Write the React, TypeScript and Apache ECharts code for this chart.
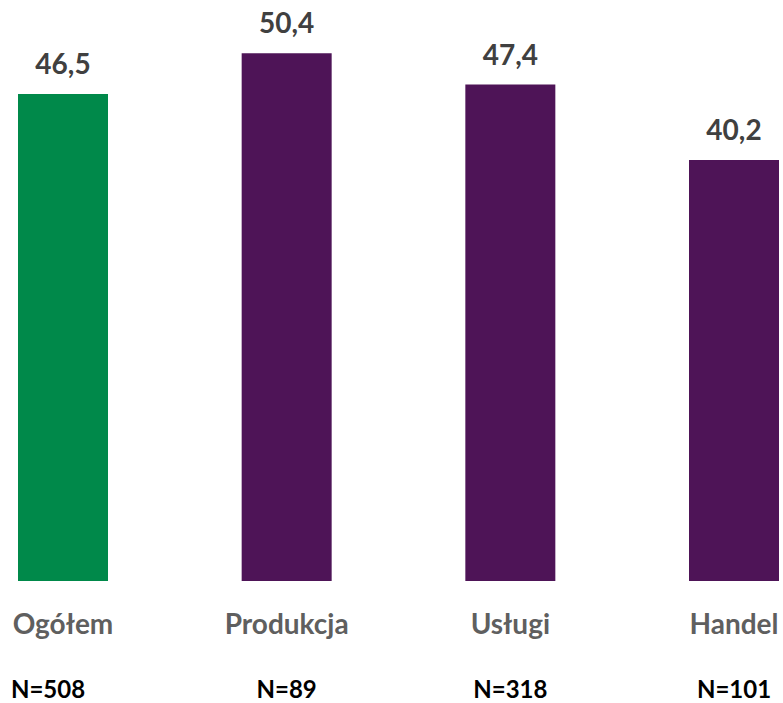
import React, { useEffect, useRef } from "react";
import * as echarts from "echarts";

const categories = ["Ogółem", "Produkcja", "Usługi", "Handel"];
const sampleSizes = ["N=508", "N=89", "N=318", "N=101"];
const values = [46.5, 50.4, 47.4, 40.2];
const barColors = ["#00894A", "#4E1457", "#4E1457", "#4E1457"];

export default function App() {
  const ref = useRef<HTMLDivElement>(null);
  useEffect(() => {
    document.body.style.margin = "0";
    const chart = echarts.init(ref.current!, null, { renderer: "svg" });
    const font = "Lato, 'Open Sans', sans-serif";
    chart.setOption({
      animation: false,
      grid: { left: 63, right: 49, top: 5, bottom: 122 },
      xAxis: [
        {
          type: "category",
          data: categories,
          boundaryGap: false,
          axisLine: { show: false },
          axisTick: { show: false },
          axisLabel: {
            margin: 28,
            fontSize: 28,
            fontWeight: "bold",
            color: "#5F5F5F",
            fontFamily: font,
          },
        },
        {
          type: "category",
          data: sampleSizes,
          position: "bottom",
          boundaryGap: false,
          axisLine: { show: false },
          axisTick: { show: false },
          axisLabel: {
            margin: 95,
            fontSize: 24,
            lineHeight: 24,
            fontWeight: "bold",
            color: "#000000",
            fontFamily: font,
            formatter: (v: string, i: number) => (i === 0 ? "{s|" + v + "}" : v),
            rich: {
              s: {
                fontSize: 24,
                lineHeight: 24,
                fontWeight: "bold",
                color: "#000000",
                fontFamily: font,
                padding: [0, 30, 0, 0],
              },
            },
          },
        },
      ],
      yAxis: {
        type: "value",
        min: 0,
        max: 55,
        show: false,
        splitLine: { show: false },
      },
      series: [
        {
          type: "bar",
          barWidth: 90,
          data: values.map((v, i) => ({ value: v, itemStyle: { color: barColors[i] } })),
          label: {
            show: true,
            position: "top",
            distance: 17,
            fontSize: 28,
            fontWeight: "bold",
            color: "#404040",
            fontFamily: font,
            formatter: (p: any) => p.value.toFixed(1).replace(".", ","),
          },
        },
      ],
    });
    return () => chart.dispose();
  }, []);
  return <div ref={ref} style={{ width: 783, height: 703 }} />;
}
